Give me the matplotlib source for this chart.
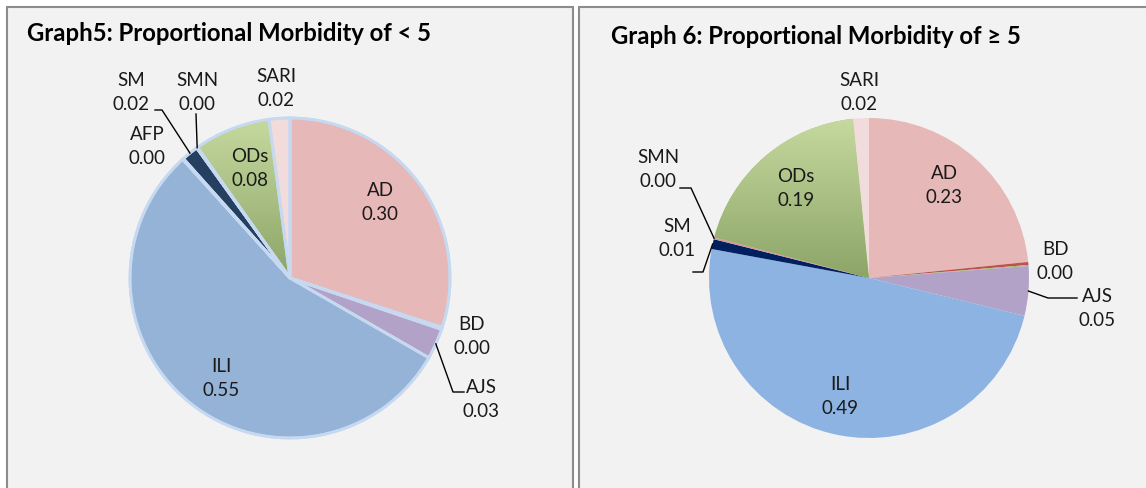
import numpy as np
import matplotlib
matplotlib.use("Agg")
import matplotlib.pyplot as plt
from matplotlib.patches import Rectangle

plt.rcParams['font.family'] = ['Lato', 'DejaVu Sans']

W, H = 1146, 489

# ---- data: graph 5 (< 5 years) ----
g5_names = ["AD", "BD", "AJS", "ILI", "AFP", "SM", "SMN", "ODs", "SARI"]
g5_values = [0.300, 0.002, 0.031, 0.550, 0.001, 0.017, 0.001, 0.077, 0.021]
g5_colors = ["#e6b8b7", "#953735", "#b3a2c7", "#95b3d7", "#4f81bd",
             "#243f60", "#c0504d", "#b3c98f", "#f2dcdb"]

# ---- data: graph 6 (>= 5 years) ----
g6_names = ["AD", "BD", "", "AJS", "ILI", "SM", "SMN", "ODs", "SARI"]
g6_values = [0.234, 0.003, 0.001, 0.050, 0.491, 0.010, 0.002, 0.193, 0.016]
g6_colors = ["#e6b8b7", "#c0504d", "#9bbb59", "#b3a2c7", "#8db3e2",
             "#002060", "#d99694", "#adc585", "#f2dcdb"]

titles = ["Graph5: Proportional Morbidity of < 5",
          "Graph 6: Proportional Morbidity of \u2265 5"]

# label centres in pixel coords (x, y from top)
g5_label_pos = {"AD": (380, 203), "BD": (472, 337), "AJS": (481, 400),
                "ILI": (221, 379), "AFP": (147, 147), "SM": (131, 93),
                "SMN": (197, 93), "ODs": (250, 169), "SARI": (276, 89)}
g6_label_pos = {"AD": (944, 186), "BD": (1055, 262), "AJS": (1097, 309),
                "ILI": (840, 397), "SM": (677, 239), "SMN": (658, 170),
                "ODs": (796, 189), "SARI": (859, 93)}
# leader lines: points away from the pie, then pie edge is appended
g5_leaders = {"SM": [(155, 111), (162, 111)], "SMN": [(196, 115)],
              "AJS": [(464, 393), (453, 393)]}
g6_leaders = {"SMN": [(680, 189), (691, 189)], "SM": [(693, 273), (703, 273)],
              "AJS": [(1077, 299), (1048, 299)]}


def Y(y):
    return H - y


fig = plt.figure(figsize=(W / 100, H / 100), dpi=100)
fig.patch.set_facecolor("white")
ax = fig.add_axes([0, 0, 1, 1])

# panels
ax.add_patch(Rectangle((7, -20), 566, Y(8) + 20, facecolor="#f2f2f2",
                       edgecolor="#8c8c8c", lw=1.5, zorder=0))
ax.add_patch(Rectangle((579, -20), 620, Y(8) + 20, facecolor="#f2f2f2",
                       edgecolor="#8c8c8c", lw=1.5, zorder=0))


def draw_pie(names, values, colors, center, edge, label_pos, leaders, title, tx, ty):
    cx, cy = center
    r = 160
    wp = dict(linewidth=2.0, edgecolor="#c6d9f1") if edge else dict(linewidth=0)
    wedges, _ = ax.pie(values, colors=colors, startangle=90, counterclock=False,
                       center=(cx, Y(cy)), radius=r, wedgeprops=wp, frame=True)
    # gradient on ODs slice
    i = names.index("ODs")
    w = wedges[i]
    grad = np.linspace(0, 1, 200)[:, None]
    c_top = np.array(matplotlib.colors.to_rgb("#c6d99f"))
    c_bot = np.array(matplotlib.colors.to_rgb("#8ca567"))
    img = c_top[None, None, :] * (1 - grad[..., None]) + c_bot[None, None, :] * grad[..., None]
    img = np.repeat(img, 2, axis=1)
    im = ax.imshow(img, extent=(cx - r, cx + r, Y(cy), Y(cy - r)), origin="upper",
                   zorder=w.get_zorder() + 0.01, aspect="auto")
    im.set_clip_path(w)
    if edge:
        ax.pie(values, colors=["none"] * len(values), startangle=90, counterclock=False,
               center=(cx, Y(cy)), radius=r, frame=True,
               wedgeprops=dict(linewidth=2.0, edgecolor="#c6d9f1", zorder=3))

    for name, val, w in zip(names, values, wedges):
        if name not in label_pos:
            continue
        lx, ly = label_pos[name]
        ax.text(lx, Y(ly), f"{name}\n{val:.2f}", ha="center", va="center",
                fontsize=13.5, linespacing=1.5, color="#1a1a1a", zorder=5)
        if name in leaders:
            th = np.deg2rad((w.theta1 + w.theta2) / 2)
            ex = cx + r * np.cos(th)
            ey = Y(cy) + r * np.sin(th)
            pts = [(x, Y(y)) for x, y in leaders[name]] + [(ex, ey)]
            xs, ys = zip(*pts)
            ax.plot(xs, ys, color="black", lw=1.0, zorder=5)

    ax.text(tx, Y(ty), title, ha="left", va="center", fontsize=17.2,
            fontweight="bold", color="black", zorder=5)


draw_pie(g5_names, g5_values, g5_colors, (290, 279), True,
         g5_label_pos, g5_leaders, titles[0], 27, 34)
draw_pie(g6_names, g6_values, g6_colors, (869, 279), False,
         g6_label_pos, g6_leaders, titles[1], 611, 37)

ax.set_xlim(0, W)
ax.set_ylim(0, H)
ax.set_aspect("auto")
ax.axis("off")

fig.savefig("out.png", dpi=100, facecolor="white")
